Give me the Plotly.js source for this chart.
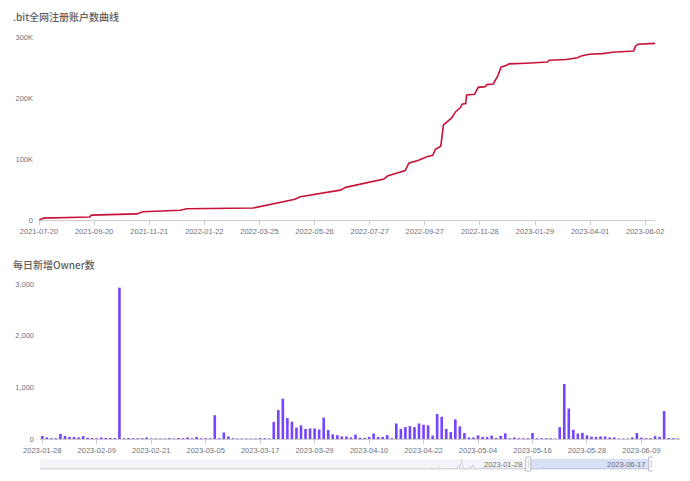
<!DOCTYPE html>
<html>
<head>
<meta charset="utf-8">
<script src="https://cdn.plot.ly/plotly-3.0.1.min.js"></script>
<style>html,body{margin:0;padding:0;background:#fff}#chart{width:690px;height:481px}</style>
</head>
<body>
<div id="chart"></div>
<script>
// ---- Top chart: cumulative registered accounts (read at kinks of the curve)
const accountDates = ['2021-07-20','2021-07-25','2021-09-15','2021-09-17','2021-11-07','2021-11-14','2021-12-26','2022-01-02','2022-03-18','2022-05-04','2022-05-10','2022-06-24','2022-06-30','2022-08-12','2022-08-16','2022-09-05','2022-09-09','2022-09-20','2022-09-30','2022-10-06','2022-10-09','2022-10-15','2022-10-18','2022-10-27','2022-11-01','2022-11-06','2022-11-08','2022-11-12','2022-11-13','2022-11-22','2022-11-26','2022-12-04','2022-12-06','2022-12-13','2022-12-18','2022-12-22','2022-12-27','2022-12-31','2023-01-19','2023-02-12','2023-02-14','2023-03-05','2023-03-18','2023-03-22','2023-03-31','2023-04-15','2023-04-26','2023-05-20','2023-05-22','2023-05-25','2023-06-13'];
const accountCounts = [0,3000,5000,8000,10000,13500,16000,18500,19700,34000,38000,49000,53500,67000,72000,81000,93000,98000,104000,106000,116000,121000,156000,167000,178000,184000,190000,191000,205000,206000,217500,218600,222000,223000,236000,251000,253000,256000,257000,259000,262000,263000,266000,269000,271600,272700,275000,277000,285000,288000,289600];
const topTickDates = ['2021-07-20','2021-09-20','2021-11-21','2022-01-22','2022-03-25','2022-05-26','2022-07-27','2022-09-27','2022-11-28','2023-01-29','2023-04-01','2023-06-02'];
const topYTicks = [0,100000,200000,300000];
const topYLabels = ['0','100K','200K','300K'];

// ---- Bottom chart: daily new owners, one value per day from ownerStart
const ownerStart = '2023-01-28';
const ownerCounts = [60,30,15,15,100,60,40,40,30,55,25,20,15,30,20,20,20,2930,15,20,15,15,15,30,10,10,10,10,15,10,20,15,30,15,40,15,15,15,460,15,125,50,15,10,10,10,10,10,15,15,10,330,560,780,405,335,220,265,195,205,205,185,415,175,90,75,50,50,30,85,25,20,40,105,40,40,75,15,300,195,230,250,230,300,275,265,65,485,430,195,135,380,245,115,30,30,70,40,40,65,20,60,110,15,30,15,15,15,115,15,15,15,15,10,230,1065,590,180,105,120,70,45,40,50,50,30,30,10,10,10,30,115,25,15,15,55,40,540,20,15,10];
const bottomTickDates = ['2023-01-28','2023-02-09','2023-02-21','2023-03-05','2023-03-17','2023-03-29','2023-04-10','2023-04-22','2023-05-04','2023-05-16','2023-05-28','2023-06-09'];
const bottomYTicks = [0,1000,2000,3000];

// ---- Slider overview (data zoom) mini line, sparse readings
const sliderDates = ['2021-07-20','2022-08-12','2022-08-14','2022-08-16','2022-10-07','2022-10-09','2022-10-11','2022-10-16','2022-10-18','2022-10-20','2022-11-07','2022-11-10','2022-11-11','2022-11-13','2022-11-15','2022-11-21','2022-11-23','2022-11-24','2022-11-26','2022-11-28','2022-12-04','2022-12-06','2023-02-12','2023-02-14','2023-02-16','2023-05-22','2023-05-23','2023-05-24','2023-06-17'];
const sliderVals  = [100,100,1200,100,100,2000,300,300,2500,200,300,5500,400,12000,300,300,3800,400,5500,300,300,1500,100,2400,100,100,1200,100,100];
const zoomStart = '2023-01-28';
const zoomEnd = '2023-06-17';

// build daily category dates for the bars
function addDays(s, n){ const d = new Date(s + 'T00:00:00Z'); d.setUTCDate(d.getUTCDate()+n); return d.toISOString().slice(0,10); }
const ownerDates = ownerCounts.map((_, i) => addDays(ownerStart, i));

const W = 690, H = 481;
const px = v => v / W;
const py = v => 1 - v / H;
const tickFont = {family: 'Liberation Sans, Arial, sans-serif', size: 7.5, color: '#6e7079'};
const titleFont = {family: 'Noto Sans CJK SC, Liberation Sans, sans-serif', size: 10, color: '#5e5e5e', weight: 500};

const traces = [
  {type: 'scatter', mode: 'lines', x: accountDates, y: accountCounts, xaxis: 'x', yaxis: 'y',
   line: {color: '#c8123a', width: 1.6}, hoverinfo: 'x+y'},
  {type: 'bar', x: ownerDates, y: ownerCounts, xaxis: 'x2', yaxis: 'y2',
   marker: {color: '#7646ff', line: {width: 0}}, width: 0.58 * 86400000},
  {type: 'scatter', mode: 'lines', x: sliderDates, y: sliderVals, xaxis: 'x3', yaxis: 'y3',
   line: {color: '#c9ccd2', width: 0.8}, hoverinfo: 'skip'}
];

const layout = {
  width: W, height: H,
  margin: {l: 0, r: 0, t: 0, b: 0},
  paper_bgcolor: '#fff', plot_bgcolor: '#fff',
  showlegend: false,
  xaxis: {domain: [px(39), px(655)], anchor: 'y', type: 'date', range: ['2021-07-20', '2023-06-13'],
    tickvals: topTickDates, tickformat: '%Y-%m-%d', ticks: 'outside', ticklen: 4, tickcolor: '#ccc',
    showline: true, linecolor: '#ccc', linewidth: 1, showgrid: false, zeroline: false, tickfont: tickFont},
  yaxis: {domain: [py(220), py(37)], anchor: 'x', range: [0, 300000], tickvals: topYTicks, ticktext: topYLabels,
    showgrid: false, showline: false, zeroline: false, ticks: '', ticklabelstandoff: 5, tickfont: tickFont},
  xaxis2: {domain: [px(40), px(680)], anchor: 'y2', type: 'date', range: ['2023-01-27 12:00', '2023-06-17 12:00'],
    tickvals: bottomTickDates, tickformat: '%Y-%m-%d', ticks: 'outside', ticklen: 4, tickcolor: '#ccc',
    showline: true, linecolor: '#ccc', linewidth: 1, showgrid: false, zeroline: false, tickfont: tickFont},
  yaxis2: {domain: [py(439), py(284)], anchor: 'x2', range: [0, 3000], tickvals: bottomYTicks, tickformat: ',',
    showgrid: false, showline: false, zeroline: false, ticks: '', ticklabelstandoff: 5, tickfont: tickFont},
  xaxis3: {domain: [px(40), px(653)], anchor: 'y3', type: 'date', range: ['2021-07-21', '2023-06-19'],
    showticklabels: false, ticks: '', showline: false, showgrid: false, zeroline: false, fixedrange: true},
  yaxis3: {domain: [py(469), py(459)], anchor: 'x3', range: [0, 12500],
    showticklabels: false, ticks: '', showline: false, showgrid: false, zeroline: false, fixedrange: true},
  shapes: [
    {type: 'rect', xref: 'x3 domain', yref: 'y3 domain', x0: 0, x1: 1, y0: 0, y1: 1,
     fillcolor: '#f4f5f8', line: {width: 0}, layer: 'below'},
    {type: 'line', xref: 'x3 domain', yref: 'y3 domain', x0: 0, x1: 1, y0: 0, y1: 0,
     line: {color: '#d4d7dd', width: 1}},
    {type: 'rect', xref: 'x3', yref: 'y3 domain', x0: zoomStart, x1: zoomEnd, y0: 0, y1: 1,
     fillcolor: 'rgba(135,170,240,0.28)', line: {width: 0}},
    {type: 'rect', xref: 'x3', xsizemode: 'pixel', xanchor: zoomStart, x0: -2.5, x1: 2.5,
     yref: 'paper', y0: py(471), y1: py(457), fillcolor: '#fff', line: {color: '#a8adb8', width: 0.8}},
    {type: 'rect', xref: 'x3', xsizemode: 'pixel', xanchor: zoomEnd, x0: -2.5, x1: 2.5,
     yref: 'paper', y0: py(471), y1: py(457), fillcolor: '#fff', line: {color: '#a8adb8', width: 0.8}},
    {type: 'line', xref: 'x3', xsizemode: 'pixel', xanchor: zoomStart, x0: 0, x1: 0,
     yref: 'paper', y0: py(468), y1: py(460), line: {color: '#b8bcc6', width: 0.7}},
    {type: 'line', xref: 'x3', xsizemode: 'pixel', xanchor: zoomEnd, x0: 0, x1: 0,
     yref: 'paper', y0: py(468), y1: py(460), line: {color: '#b8bcc6', width: 0.7}}
  ],
  annotations: [
    {text: '.bit全网注册账户数曲线', xref: 'paper', yref: 'paper', x: px(11), y: py(16.5),
     xanchor: 'left', yanchor: 'middle', showarrow: false, font: titleFont},
    {text: '每日新增Owner数', xref: 'paper', yref: 'paper', x: px(11), y: py(264),
     xanchor: 'left', yanchor: 'middle', showarrow: false, font: titleFont},
    {text: zoomStart, xref: 'x3', x: zoomStart, yref: 'paper', y: py(464), xanchor: 'right', yanchor: 'middle',
     xshift: -4, showarrow: false, font: tickFont},
    {text: zoomEnd, xref: 'x3', x: zoomEnd, yref: 'paper', y: py(464), xanchor: 'right', yanchor: 'middle',
     xshift: -4, showarrow: false, font: tickFont}
  ]
};

Plotly.newPlot('chart', traces, layout, {displayModeBar: false, staticPlot: true});
</script>
</body>
</html>
